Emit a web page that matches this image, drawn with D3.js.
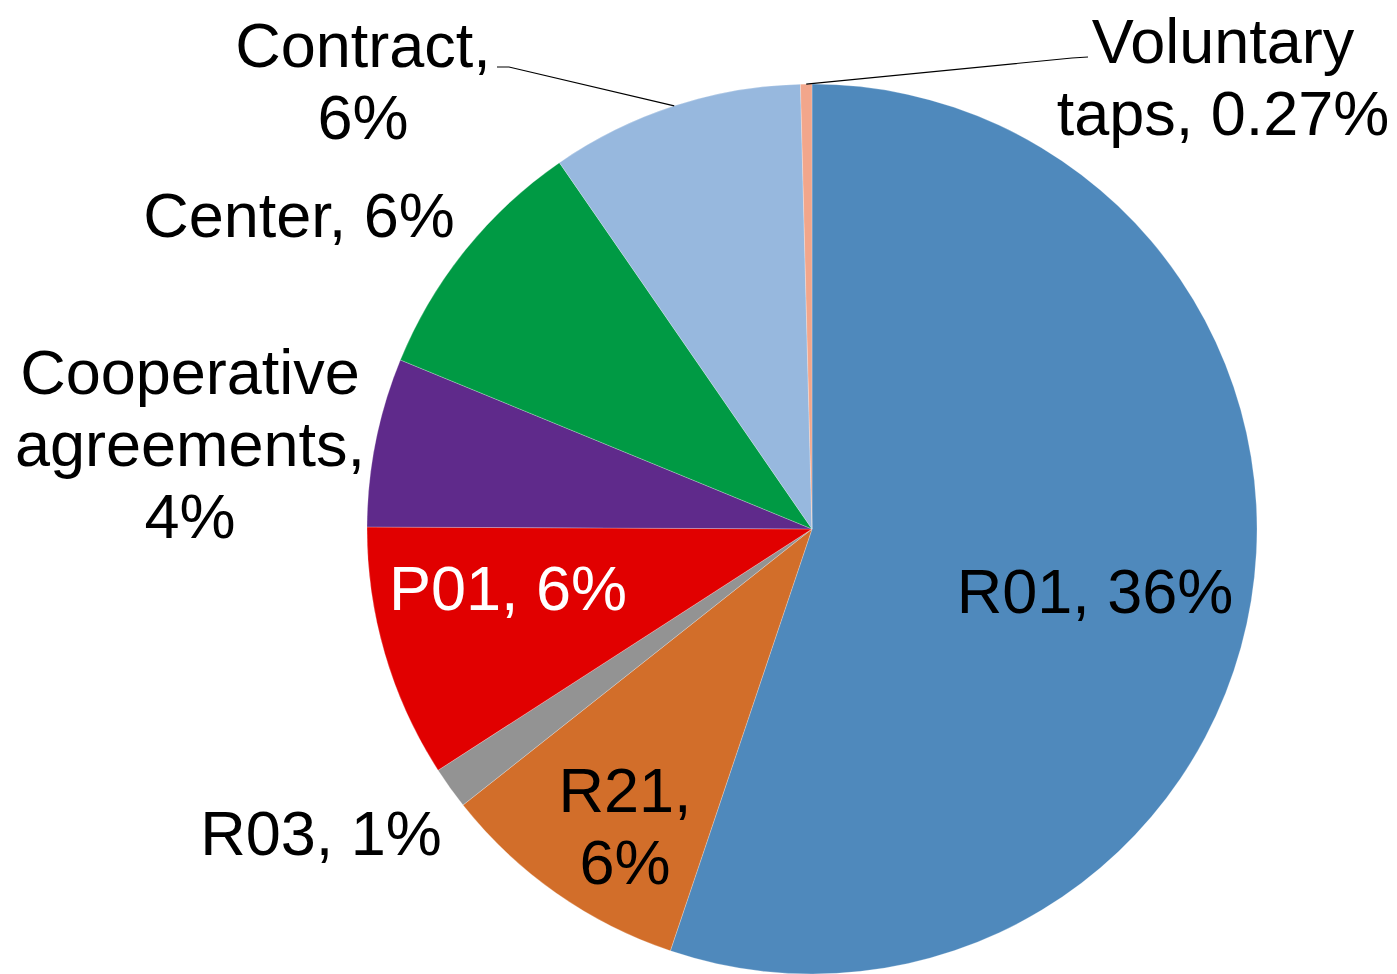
<!DOCTYPE html>
<html>
<head>
  <meta charset="utf-8" />
  <script src="https://d3js.org/d3.v7.min.js"></script>
  <style>
    * { margin: 0; padding: 0; }
    body { background: #fff; }
    svg { display: block; font-family: "Liberation Sans", Arial, sans-serif; }
  </style>
</head>
<body>
  <svg width="1397" height="974"></svg>
  <script>
    // data, clockwise from 12 o'clock
    const categories = ["R01", "R21", "R03", "P01", "Cooperative agreements", "Center", "Contract", "Voluntary taps"];
    const values = [36, 6, 1, 6, 4, 6, 6, 0.27];
    const valueLabels = ["36%", "6%", "1%", "6%", "4%", "6%", "6%", "0.27%"];
    const colors = ["#4f89bc", "#d26e2a", "#939393", "#e10000", "#5f2a8b", "#009a44", "#97b8de", "#f2a68b"];

    // label layout: text lines, centre x, first baseline y, text colour, leader line anchor
    const labelLayout = [
      { lines: ["R01, 36%"], x: 1095, y: 613 },
      { lines: ["R21,", "6%"], x: 625, y: 812 },
      { lines: ["R03, 1%"], x: 321, y: 855 },
      { lines: ["P01, 6%"], x: 508, y: 610, fill: "#fff" },
      { lines: ["Cooperative", "agreements,", "4%"], x: 190, y: 394 },
      { lines: ["Center, 6%"], x: 299, y: 237 },
      { lines: ["Contract,", "6%"], x: 363, y: 67, leader: [[497, 67], [509, 67]] },
      { lines: ["Voluntary", "taps, 0.27%"], x: 1223, y: 63, leader: [[1088, 57], [1072, 58]] }
    ];

    const svg = d3.select("svg");
    const cx = 812, cy = 529, radius = 445;
    const g = svg.append("g").attr("transform", `translate(${cx},${cy})`);

    const pie = d3.pie().sort(null).value(d => d);
    const arcs = pie(values);
    const arc = d3.arc().innerRadius(0).outerRadius(radius);
    const edgeArc = d3.arc().innerRadius(radius).outerRadius(radius);

    g.selectAll("path.slice")
      .data(arcs)
      .join("path")
      .attr("class", "slice")
      .attr("d", arc)
      .attr("fill", (d, i) => colors[i])
      .attr("stroke", "#ffffff")
      .attr("stroke-opacity", 0.6)
      .attr("stroke-width", 0.4);

    // leader lines for the labels placed outside
    arcs.forEach((d, i) => {
      const lay = labelLayout[i];
      if (!lay.leader) return;
      const [ex, ey] = edgeArc.centroid(d);
      const pts = lay.leader.concat([[cx + ex, cy + ey]]);
      svg.append("path")
        .attr("d", d3.line()(pts))
        .attr("fill", "none")
        .attr("stroke", "#000")
        .attr("stroke-width", 1.2);
    });

    const lineH = 72;
    labelLayout.forEach((lay, i) => {
      const t = svg.append("text")
        .attr("text-anchor", "middle")
        .attr("font-size", 63)
        .attr("fill", lay.fill || "#000");
      lay.lines.forEach((s, k) => {
        t.append("tspan")
          .attr("x", lay.x)
          .attr("y", lay.y + k * lineH)
          .text(s);
      });
    });
  </script>
</body>
</html>
